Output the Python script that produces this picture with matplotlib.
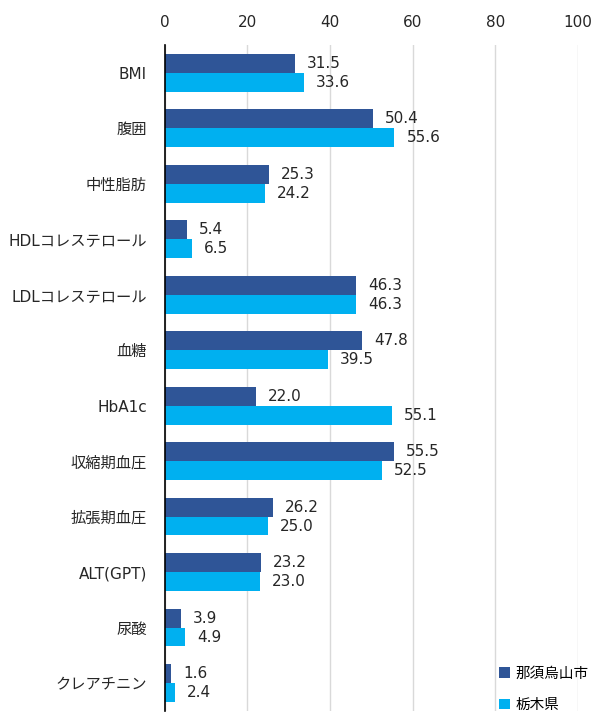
import matplotlib.pyplot as plt
import numpy as np

plt.rcParams['font.family'] = ['DejaVu Sans', 'Noto Sans CJK JP']

categories = ["BMI", "腹囲", "中性脂肪", "HDLコレステロール", "LDLコレステロール", "血糖",
              "HbA1c", "収縮期血圧", "拡張期血圧", "ALT(GPT)", "尿酸", "クレアチニン"]
nasu = [31.5, 50.4, 25.3, 5.4, 46.3, 47.8, 22.0, 55.5, 26.2, 23.2, 3.9, 1.6]
tochigi = [33.6, 55.6, 24.2, 6.5, 46.3, 39.5, 55.1, 52.5, 25.0, 23.0, 4.9, 2.4]
series_names = ["那須烏山市", "栃木県"]

fig = plt.figure(figsize=(5.95, 7.13), dpi=100)
ax = fig.add_axes([0.277, 0.003, 0.694, 0.934])

y = np.arange(len(categories))
h = 0.34
b1 = ax.barh(y - h / 2, nasu, height=h, color='#2F5597', label=series_names[0])
b2 = ax.barh(y + h / 2, tochigi, height=h, color='#00B0F0', label=series_names[1])

# value labels
for bars, vals in ((b1, nasu), (b2, tochigi)):
    for bar, v in zip(bars, vals):
        ax.annotate(f"{v:.1f}", (v, bar.get_y() + bar.get_height() / 2),
                    xytext=(12, 0), textcoords='offset pixels',
                    va='center', ha='left', fontsize=11, color='#262626')

ax.set_xlim(0, 100)
ax.set_ylim(len(categories) - 0.5, -0.5)
ax.set_xticks([0, 20, 40, 60, 80, 100])
ax.set_yticks(y)
ax.set_yticklabels(categories)
ax.xaxis.tick_top()
ax.tick_params(axis='x', length=0, pad=11, labelsize=11, colors='#262626')
ax.tick_params(axis='y', length=0, pad=13, labelsize=11, colors='#262626')
ax.grid(axis='x', color='#d9d9d9', linewidth=1)
ax.set_axisbelow(True)
for s in ['top', 'right', 'bottom']:
    ax.spines[s].set_visible(False)
ax.spines['left'].set_color('black')
ax.spines['left'].set_linewidth(1.2)
ax.spines['left'].set_zorder(5)

ax.legend(loc='lower right', bbox_to_anchor=(1.058, -0.022), frameon=False,
          handlelength=0.7, handleheight=0.7, handletextpad=0.4,
          labelspacing=1.15, fontsize=10.5)

fig.savefig('out.png', dpi=100)
